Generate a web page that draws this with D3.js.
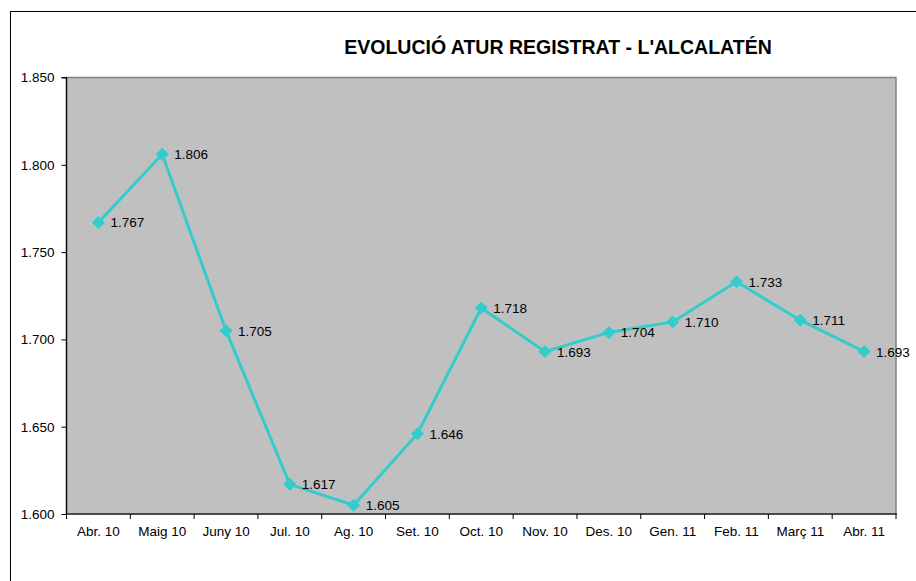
<!DOCTYPE html>
<html>
<head>
<meta charset="utf-8">
<script src="https://cdn.jsdelivr.net/npm/d3@7"></script>
<style>
  body { margin: 0; background: #fff; }
  svg { display: block; font-family: Arial, "Liberation Sans", sans-serif; }
</style>
</head>
<body>
<svg id="chart" width="916" height="581"></svg>
<script>
// data
var months = ["Abr. 10", "Maig 10", "Juny 10", "Jul. 10", "Ag. 10", "Set. 10", "Oct. 10",
              "Nov. 10", "Des. 10", "Gen. 11", "Feb. 11", "Març 11", "Abr. 11"];
var atur = [1767, 1806, 1705, 1617, 1605, 1646, 1718, 1693, 1704, 1710, 1733, 1711, 1693];
var yTicks = [1600, 1650, 1700, 1750, 1800, 1850];

var svg = d3.select("#chart");
var plotLeft = 66.5, plotRight = 896, plotTop = 77.5, plotBottom = 514;

// number format with dot as thousands separator
var fmt = d3.formatLocale({decimal: ",", thousands: ".", grouping: [3], currency: ["", "€"]}).format(",d");

// outer chart border (runs off right/bottom edge)
svg.append("rect").attr("x", 10.5).attr("y", 11.5).attr("width", 940).attr("height", 600)
    .attr("fill", "none").attr("stroke", "#000").attr("stroke-width", 1);

var x = d3.scaleBand().domain(months).range([plotLeft, plotRight]);
var y = d3.scaleLinear().domain([1600, 1850]).range([plotBottom, plotTop]);

// plot area
svg.append("rect").attr("x", plotLeft).attr("y", plotTop)
    .attr("width", plotRight - plotLeft).attr("height", plotBottom - plotTop)
    .attr("fill", "#c0c0c0").attr("stroke", "#808080").attr("stroke-width", 1.5);

// title
svg.append("text").attr("x", 558).attr("y", 54).attr("text-anchor", "middle")
    .style("font-size", "19.5px").style("font-weight", "bold")
    .text("EVOLUCIÓ ATUR REGISTRAT - L'ALCALATÉN");

// y axis
var yAxis = svg.append("g").attr("transform", "translate(" + plotLeft + ",0)")
    .call(d3.axisLeft(y).tickValues(yTicks).tickSize(5).tickPadding(7).tickFormat(fmt));
// x axis, ticks at band edges
var xAxis = svg.append("g").attr("transform", "translate(0," + plotBottom + ")")
    .call(d3.axisBottom(x).tickSize(0).tickPadding(12));
xAxis.selectAll(".tick line").remove();
xAxis.selectAll(".edge").data(d3.range(months.length + 1)).enter().append("line")
    .attr("x1", function(i){ return plotLeft + i * x.step(); })
    .attr("x2", function(i){ return plotLeft + i * x.step(); })
    .attr("y1", 0).attr("y2", 5).attr("stroke", "#000");

[yAxis, xAxis].forEach(function(g){
    g.selectAll("text").style("font-size", "13.5px").attr("fill", "#000")
        .style("font-family", "Arial, 'Liberation Sans', sans-serif");
    g.selectAll("path.domain").attr("stroke", "#000").attr("stroke-width", 1.2);
});
xAxis.select("path.domain").attr("d", "M" + plotLeft + ",0H" + (plotRight + 1));
yAxis.select("path.domain").attr("d", "M-5," + plotTop + "H0V" + plotBottom);

// series
var cx = function(d, i){ return x(months[i]) + x.bandwidth() / 2; };
var line = d3.line().x(cx).y(function(d){ return y(d); });

svg.append("path").datum(atur).attr("d", line)
    .attr("fill", "none").attr("stroke", "#33cccc").attr("stroke-width", 3);

svg.selectAll(".pt").data(atur).enter().append("path")
    .attr("transform", function(d, i){ return "translate(" + cx(d, i) + "," + y(d) + ")"; })
    .attr("d", "M0,-6.5L6.5,0L0,6.5L-6.5,0Z")
    .attr("fill", "#33cccc");

svg.selectAll(".lbl").data(atur).enter().append("text")
    .attr("x", function(d, i){ return cx(d, i) + 12; })
    .attr("y", function(d){ return y(d) + 5; })
    .style("font-size", "13.5px").attr("fill", "#000")
    .text(function(d){ return fmt(d); });
</script>
</body>
</html>
